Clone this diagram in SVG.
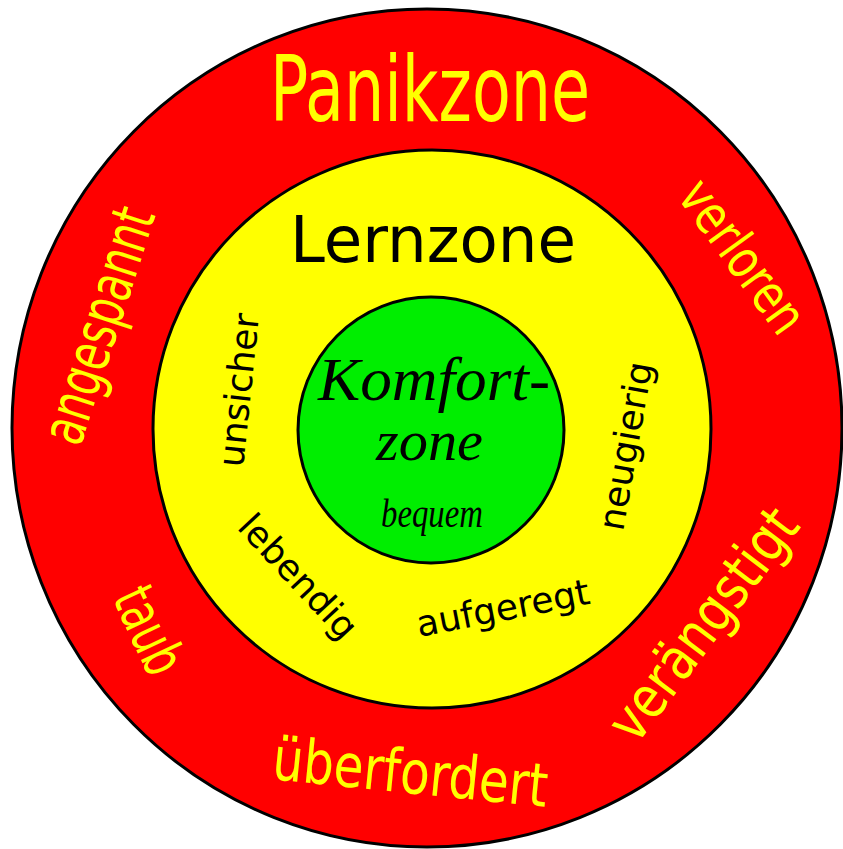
<svg xmlns="http://www.w3.org/2000/svg" width="843" height="849" viewBox="0 0 843 849">
<style>
.ring{stroke:#000;stroke-width:3}
.hand{font-family:"Liberation Sans Narrow","DejaVu Sans Condensed","DejaVu Sans",sans-serif;font-stretch:condensed;fill:#ffff00}
.inner{font-family:"DejaVu Sans",Verdana,sans-serif;fill:#000}
.script{font-family:"Liberation Serif","DejaVu Serif",serif;font-style:italic;fill:#000}
</style>
<rect width="843" height="849" fill="#fff"/>
<g id="connectors"/>
<g id="panikzone">
<ellipse class="ring" cx="427" cy="428" rx="415" ry="419" fill="#ff0000"/>
<text class="hand" x="270" y="121" font-size="90" textLength="320" lengthAdjust="spacingAndGlyphs">Panikzone</text>
<text class="hand" x="80" y="448" font-size="60" textLength="245" lengthAdjust="spacingAndGlyphs" transform="rotate(-72 80 448)">angespannt</text>
<text class="hand" x="676" y="196" font-size="54" textLength="176" lengthAdjust="spacingAndGlyphs" transform="rotate(54 676 196)">verloren</text>
<text class="hand" x="636" y="746" font-size="58" textLength="275" lengthAdjust="spacingAndGlyphs" transform="rotate(-53 636 746)">verängstigt</text>
<text class="hand" x="112" y="598" font-size="58" textLength="90" lengthAdjust="spacingAndGlyphs" transform="rotate(65 112 598)">taub</text>
<text class="hand" x="271" y="779" font-size="60" textLength="276" lengthAdjust="spacingAndGlyphs" transform="rotate(5.8 271 779)">überfordert</text>
</g>
<g id="lernzone">
<circle class="ring" cx="432" cy="429" r="279" fill="#ffff00"/>
<text class="inner" x="290" y="262" font-size="64" textLength="286" lengthAdjust="spacingAndGlyphs">Lernzone</text>
<text class="inner" x="243" y="468" font-size="36" transform="rotate(-84 243 468)">unsicher</text>
<text class="inner" x="623" y="532" font-size="36" transform="rotate(-80 623 532)">neugierig</text>
<text class="inner" x="236" y="528" font-size="36" transform="rotate(47 236 528)">lebendig</text>
<text class="inner" x="419" y="637" font-size="36" transform="rotate(-11 419 637)">aufgeregt</text>
</g>
<g id="komfortzone">
<circle class="ring" cx="431" cy="430" r="133" fill="#00ee00" stroke-width="2.5"/>
<text class="script" x="318" y="400" font-size="62" textLength="232" lengthAdjust="spacingAndGlyphs">Komfort-</text>
<text class="script" x="376" y="460" font-size="56" textLength="107" lengthAdjust="spacingAndGlyphs">zone</text>
<text class="script" x="381" y="527" font-size="40" textLength="102" lengthAdjust="spacingAndGlyphs">bequem</text>
</g>
</svg>
